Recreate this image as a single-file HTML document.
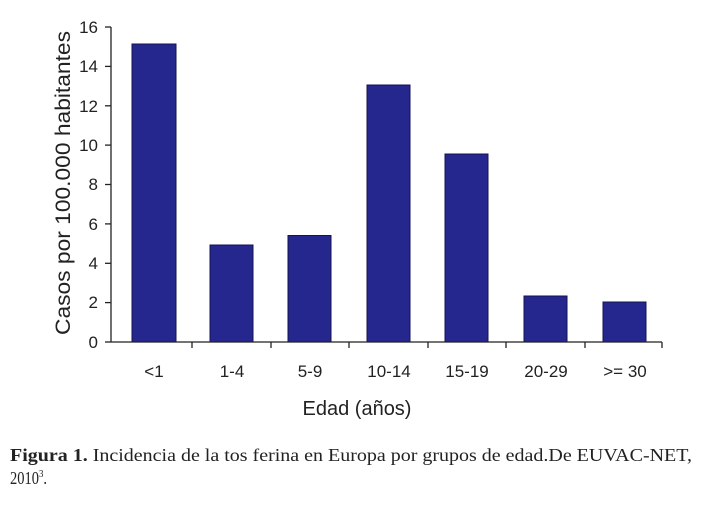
<!DOCTYPE html>
<html><head><meta charset="utf-8"><style>
html,body{margin:0;padding:0;background:#fff;}
svg{display:block;}
</style></head><body>
<svg width="720" height="508" viewBox="0 0 720 508" xmlns="http://www.w3.org/2000/svg">
<g fill="#26268f" stroke="#141450" stroke-width="1">
<rect x="132" y="44" width="44" height="298"/>
<rect x="210" y="245" width="43" height="97"/>
<rect x="288" y="235.5" width="43" height="106.5"/>
<rect x="367" y="85" width="43" height="257"/>
<rect x="445" y="154" width="43" height="188"/>
<rect x="524" y="296" width="43" height="46"/>
<rect x="603" y="302" width="43" height="40"/>
</g>
<g stroke="#222" stroke-width="1.3" fill="none">
<line x1="111" y1="27" x2="111" y2="342"/>
<line x1="111" y1="342" x2="662" y2="342"/>
<line x1="105" y1="27" x2="111" y2="27"/>
<line x1="105" y1="66.4" x2="111" y2="66.4"/>
<line x1="105" y1="105.8" x2="111" y2="105.8"/>
<line x1="105" y1="145.1" x2="111" y2="145.1"/>
<line x1="105" y1="184.5" x2="111" y2="184.5"/>
<line x1="105" y1="223.9" x2="111" y2="223.9"/>
<line x1="105" y1="263.3" x2="111" y2="263.3"/>
<line x1="105" y1="302.6" x2="111" y2="302.6"/>
<line x1="105" y1="342" x2="111" y2="342"/>
<line x1="192" y1="342" x2="192" y2="348"/>
<line x1="271" y1="342" x2="271" y2="348"/>
<line x1="349" y1="342" x2="349" y2="348"/>
<line x1="428" y1="342" x2="428" y2="348"/>
<line x1="506" y1="342" x2="506" y2="348"/>
<line x1="585" y1="342" x2="585" y2="348"/>
<line x1="662" y1="342" x2="662" y2="348"/>
</g>
<g font-family="Liberation Sans, sans-serif" font-size="17" fill="#222" text-anchor="end">
<text x="98" y="33">16</text>
<text x="98" y="72">14</text>
<text x="98" y="112">12</text>
<text x="98" y="151">10</text>
<text x="98" y="190">8</text>
<text x="98" y="230">6</text>
<text x="98" y="269">4</text>
<text x="98" y="308">2</text>
<text x="98" y="348">0</text>
</g>
<g font-family="Liberation Sans, sans-serif" font-size="17" fill="#222" text-anchor="middle">
<text x="154" y="377">&lt;1</text>
<text x="232" y="377">1-4</text>
<text x="310" y="377">5-9</text>
<text x="389" y="377">10-14</text>
<text x="467" y="377">15-19</text>
<text x="546" y="377">20-29</text>
<text x="625" y="377">&gt;= 30</text>
<text x="357" y="415" font-size="20">Edad (años)</text>
<text transform="translate(70,183) rotate(-90)" font-size="21" textLength="304" lengthAdjust="spacingAndGlyphs">Casos por 100.000 habitantes</text>
</g>
<text x="10" y="461" font-family="Liberation Serif, serif" font-size="18" fill="#222" textLength="682" lengthAdjust="spacingAndGlyphs"><tspan font-weight="bold">Figura 1.</tspan>  Incidencia de la tos ferina en Europa por grupos de edad.De EUVAC-NET,</text>
<text x="10" y="484" font-family="Liberation Serif, serif" font-size="18" fill="#222" textLength="37" lengthAdjust="spacingAndGlyphs">2010<tspan font-size="11" dy="-7">3</tspan><tspan dy="7">.</tspan></text>
</svg>
</body></html>
